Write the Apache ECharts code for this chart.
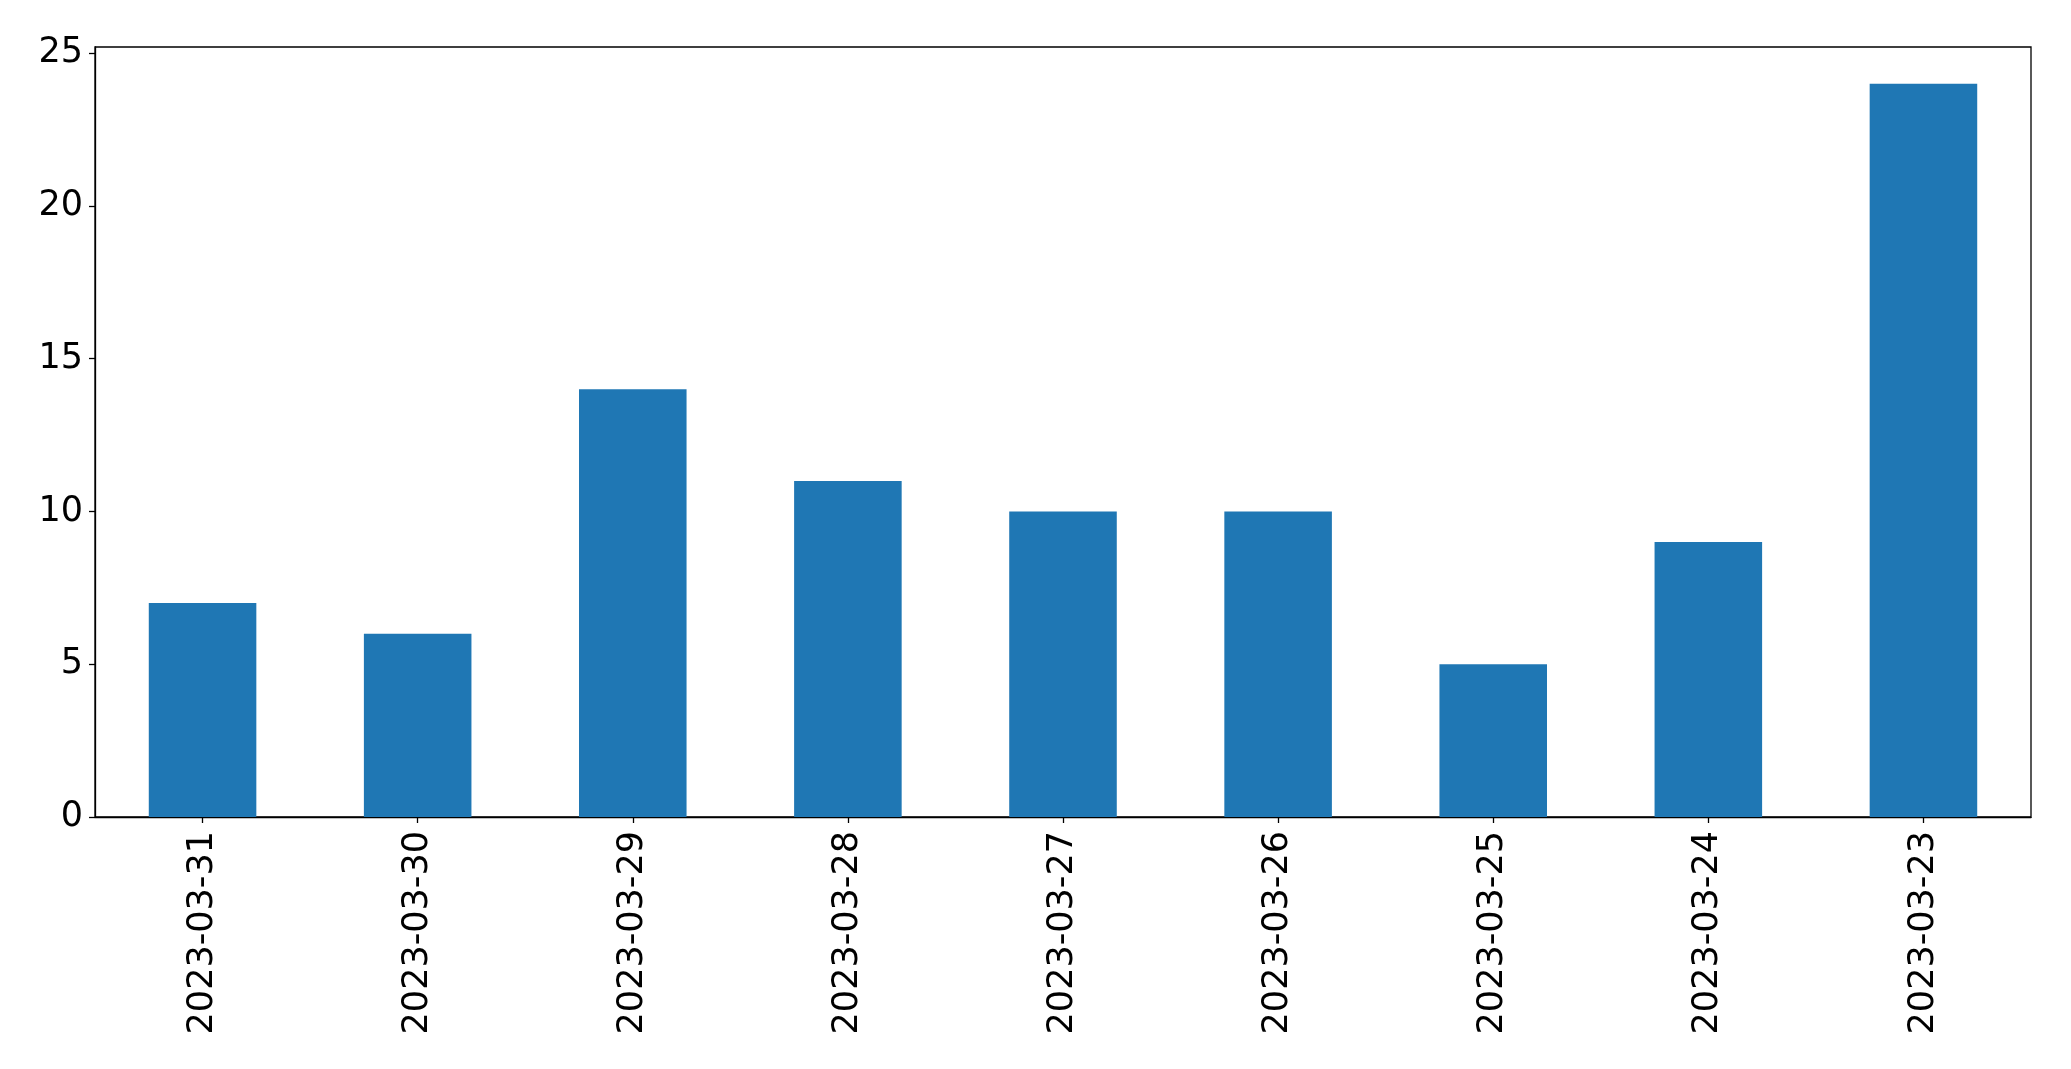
<!DOCTYPE html>
<html><head><meta charset="utf-8">
<script src="https://cdn.jsdelivr.net/npm/echarts@6/dist/echarts.min.js"></script>
<style>html,body{margin:0;padding:0;background:#fff}#c{width:2071px;height:1069px}</style>
</head><body><div id="c"></div>
<script>
const categories = ['2023-03-31','2023-03-30','2023-03-29','2023-03-28','2023-03-27','2023-03-26','2023-03-25','2023-03-24','2023-03-23'];
const values = [7, 6, 14, 11, 10, 10, 5, 9, 24];
const yTicks = [0, 5, 10, 15, 20, 25];

const chart = echarts.init(document.getElementById('c'), null, {renderer: 'canvas'});
const font = 'DejaVu Sans';
chart.setOption({
  animation: false,
  backgroundColor: '#fff',
  grid: {left: 95, right: 40, top: 47, bottom: 252, show: true, borderColor: '#000', borderWidth: 1.3, backgroundColor: 'transparent'},
  xAxis: {
    type: 'category', data: categories,
    axisLine: {show: true, lineStyle: {color: '#000', width: 1.3}},
    axisTick: {show: true, alignWithLabel: true, length: 6, lineStyle: {color: '#000', width: 1.3}},
    axisLabel: {rotate: 90, fontFamily: font, fontSize: 35, color: '#000', margin: 14, interval: 0}
  },
  yAxis: {
    type: 'value', min: 0, max: 25.2,
    axisLine: {show: true, lineStyle: {color: '#000', width: 1.3}},
    axisTick: {show: true, length: 6, lineStyle: {color: '#000', width: 1.3}, customValues: yTicks},
    axisLabel: {fontFamily: font, fontSize: 35, color: '#000', margin: 12, customValues: yTicks},
    splitLine: {show: false}
  },
  series: [{type: 'bar', data: values, barWidth: '50%', itemStyle: {color: '#1f77b4'}}]
});
</script></body></html>
